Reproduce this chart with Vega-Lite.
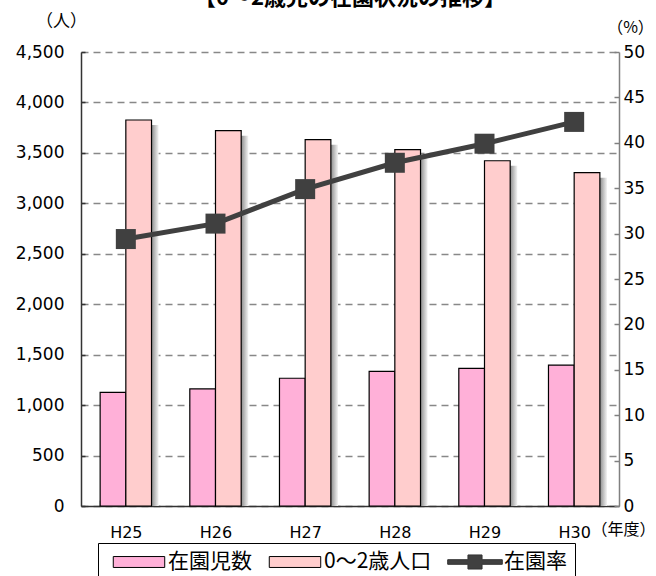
{
  "$schema": "https://vega.github.io/schema/vega-lite/v6.json",
  "autosize": {"type": "none"},
  "width": 538,
  "height": 454,
  "padding": {"left": 81, "top": 52, "right": 37, "bottom": 70},
  "background": "white",
  "config": {
    "font": "Noto Sans CJK JP",
    "view": {"stroke": null},
    "axis": {"labelFont": "DejaVu Sans", "titleFont": "Noto Sans CJK JP", "labelColor": "black", "titleColor": "black"}
  },
  "title": {
    "text": "【0～2歳児の在園状況の推移】",
    "fontSize": 22,
    "fontWeight": "bold",
    "anchor": "middle",
    "baseline": "bottom",
    "offset": -20,
    "color": "black"
  },
  "data": {
    "values": [
      {"year": "H25", "series": "在園児数", "value": 1127},
      {"year": "H26", "series": "在園児数", "value": 1160},
      {"year": "H27", "series": "在園児数", "value": 1266},
      {"year": "H28", "series": "在園児数", "value": 1335},
      {"year": "H29", "series": "在園児数", "value": 1365},
      {"year": "H30", "series": "在園児数", "value": 1397},
      {"year": "H25", "series": "0～2歳人口", "value": 3826},
      {"year": "H26", "series": "0～2歳人口", "value": 3720},
      {"year": "H27", "series": "0～2歳人口", "value": 3631},
      {"year": "H28", "series": "0～2歳人口", "value": 3532},
      {"year": "H29", "series": "0～2歳人口", "value": 3422},
      {"year": "H30", "series": "0～2歳人口", "value": 3304},
      {"year": "H25", "series": "在園率", "value": 29.4},
      {"year": "H26", "series": "在園率", "value": 31.1},
      {"year": "H27", "series": "在園率", "value": 34.9},
      {"year": "H28", "series": "在園率", "value": 37.8},
      {"year": "H29", "series": "在園率", "value": 39.9},
      {"year": "H30", "series": "在園率", "value": 42.3}
    ]
  },
  "encoding": {
    "x": {
      "field": "year",
      "type": "nominal",
      "sort": ["H25", "H26", "H27", "H28", "H29", "H30"],
      "scale": {"paddingInner": 0.427, "paddingOuter": 0.2135},
      "axis": {
        "title": "（年度）",
        "titleFontSize": 16,
        "titleFontWeight": "normal",
        "titleX": 542,
        "titleY": 15,
        "titleAlign": "center",
        "titleBaseline": "top",
        "labelAngle": 0,
        "labelFontSize": 16,
        "labelPadding": 24,
        "domainColor": "#333333",
        "domainWidth": 1.5,
        "tickBand": "extent",
        "tickColor": "#333333",
        "tickSize": -6,
        "tickWidth": 1.5
      }
    }
  },
  "layer": [
    {
      "transform": [{"filter": "datum.series !== '在園率'"}],
      "encoding": {
        "y": {
          "field": "value",
          "type": "quantitative",
          "scale": {"domain": [0, 4500]},
          "axis": {
            "orient": "left",
            "values": [0, 500, 1000, 1500, 2000, 2500, 3000, 3500, 4000, 4500],
            "format": ",d",
            "title": "（人）",
            "titleAngle": 0,
            "titleFontSize": 17,
            "titleFontWeight": "normal",
            "titleX": -20,
            "titleY": -31,
            "titleAlign": "center",
            "titleBaseline": "middle",
            "labelFontSize": 17,
            "labelPadding": 21,
            "domainColor": "#333333",
            "domainWidth": 1.5,
            "tickColor": "#333333",
            "tickSize": -4,
            "tickWidth": 1.5,
            "grid": true,
            "gridColor": "#888888",
            "gridDash": [7, 5],
            "gridWidth": 1.5
          }
        }
      },
      "layer": [
        {
          "transform": [{"filter": "datum.series === '0～2歳人口'"}],
          "mark": {
            "type": "bar",
            "clip": true,
            "width": {"band": 0.5},
            "xOffset": 20,
            "yOffset": 5,
            "fill": {
              "gradient": "linear",
              "x1": 0, "y1": 0, "x2": 1, "y2": 0,
              "stops": [
                {"offset": 0, "color": "#808080"},
                {"offset": 0.72, "color": "#8c8c8c"},
                {"offset": 1, "color": "#f4f4f4"}
              ]
            }
          }
        },
        {
          "mark": {"type": "bar", "stroke": "black", "strokeWidth": 1.2},
          "encoding": {
            "xOffset": {
              "field": "series",
              "type": "nominal",
              "scale": {"domain": ["在園児数", "0～2歳人口"], "paddingInner": 0, "paddingOuter": 0}
            },
            "color": {
              "condition": {"test": "datum.series === '在園児数'", "value": "#ffb0d8"},
              "value": "#ffcdcd"
            }
          }
        }
      ]
    },
    {
      "transform": [{"filter": "datum.series === '在園率'"}],
      "encoding": {
        "y": {
          "field": "value",
          "type": "quantitative",
          "scale": {"domain": [0, 50]},
          "axis": {
            "orient": "right",
            "values": [0, 5, 10, 15, 20, 25, 30, 35, 40, 45, 50],
            "title": "（%）",
            "titleAngle": 0,
            "titleFontSize": 16,
            "titleFontWeight": "normal",
            "titleX": 11,
            "titleY": -25,
            "titleAlign": "center",
            "titleBaseline": "middle",
            "labelFontSize": 17,
            "labelPadding": 9,
            "domainColor": "#808080",
            "domainWidth": 1.5,
            "tickColor": "#808080",
            "tickSize": -5,
            "tickWidth": 1.5,
            "grid": false
          }
        }
      },
      "layer": [
        {"mark": {"type": "line", "color": "#404040", "strokeWidth": 5}},
        {"mark": {"type": "point", "shape": "square", "filled": true, "color": "#404040", "opacity": 1, "size": 400}},
        {
          "transform": [{"filter": "false"}],
          "mark": {"type": "point", "filled": true, "strokeWidth": 1, "opacity": 1},
          "encoding": {
            "color": {
              "field": "series",
              "type": "nominal",
              "scale": {"domain": ["在園児数", "0～2歳人口", "在園率"], "range": ["#ffb0d8", "#ffcdcd", "#404040"]},
              "legend": {
                "orient": "none",
                "legendX": 17,
                "legendY": 491,
                "direction": "horizontal",
                "columns": 3,
                "title": null,
                "strokeColor": "black",
                "fillColor": "white",
                "padding": 8,
                "symbolSize": 441,
                "symbolOffset": 22,
                "symbolStrokeWidth": 1,
                "labelFontSize": 21,
                "labelFont": "Noto Sans CJK JP",
                "labelColor": "black",
                "labelOffset": 18,
                "columnPadding": 10,
                "labelLimit": 300
              }
            },
            "shape": {
              "field": "series",
              "type": "nominal",
              "scale": {
                "domain": ["在園児数", "0～2歳人口", "在園率"],
                "range": [
                  "M-2.45,-0.52H2.45V0.52H-2.45Z",
                  "M-2.45,-0.52H2.45V0.52H-2.45Z",
                  "M-2.6,-0.22H-0.67V-0.67H0.67V-0.22H2.6V0.22H0.67V0.67H-0.67V0.22H-2.6Z"
                ]
              }
            },
            "stroke": {
              "field": "series",
              "type": "nominal",
              "scale": {"domain": ["在園児数", "0～2歳人口", "在園率"], "range": ["black", "black", "#333333"]}
            }
          }
        }
      ]
    }
  ],
  "resolve": {"scale": {"y": "independent"}}
}
